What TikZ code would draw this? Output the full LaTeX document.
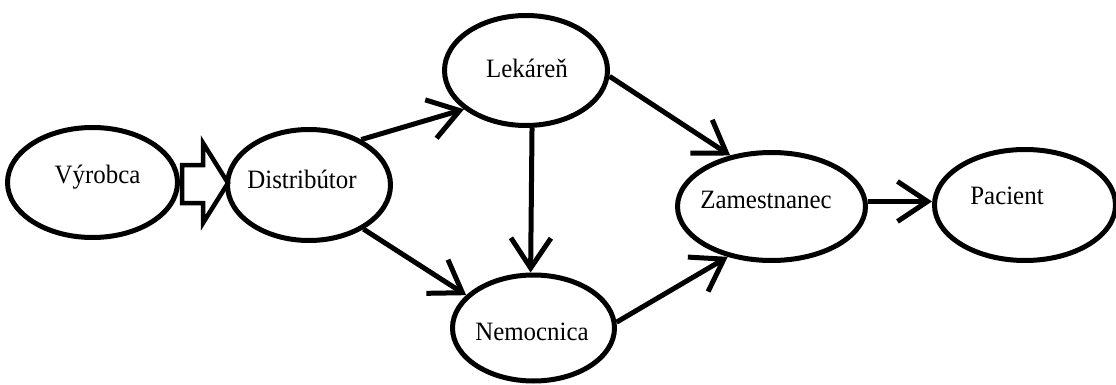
\documentclass[tikz,border=0pt]{standalone}
\usepackage{fontspec}
\setmainfont{Liberation Serif}
\usetikzlibrary{shapes.geometric,arrows.meta,calc}
\newcommand{\narrowtxt}[1]{\scalebox{0.94}[1]{#1}}
\begin{document}
\begin{tikzpicture}[x=1pt,y=-1pt,
  ell/.style={ellipse, draw, line width=5pt, inner sep=0pt},
  lbl/.style={anchor=base, font=\fontsize{26.5}{26.5}\selectfont, inner sep=0pt},
  arr/.style={line width=5pt, -{Straight Barb[length=30pt,width=40pt]}},
  blockarr/.style={draw, fill=white, line width=4.5pt, line join=miter}]
\useasboundingbox (0,0) rectangle (1116,385);
\clip (0,0) rectangle (1116,385);
\node[ell, minimum width=170, minimum height=110] (V) at (92.5,182.5) {};
\node[ell, minimum width=163, minimum height=111] (D) at (309,185) {};
\node[ell, minimum width=163, minimum height=110] (L) at (526,70.5) {};
\node[ell, minimum width=162, minimum height=106] (N) at (533.5,328) {};
\node[ell, minimum width=188, minimum height=108] (Z) at (771.5,206.5) {};
\node[ell, minimum width=181, minimum height=111] (P) at (1025,205) {};
\node[lbl] (tV) at (97.5,183.3) {\narrowtxt{Výrobca}};
\node[lbl] (tD) at (302,188) {\narrowtxt{Distribútor}};
\node[lbl] (tL) at (527,78) {\narrowtxt{Lekáreň}};
\node[lbl] (tN) at (532,340.5) {\narrowtxt{Nemocnica}};
\node[lbl] (tZ) at (766,208) {\narrowtxt{Zamestnanec}};
\node[lbl] (tP) at (1007,204) {\narrowtxt{Pacient}};
\coordinate (VE) at (V.east);
\draw[blockarr] ($(VE)+(2,-17.5)$) -- ($(VE)+(23,-17.5)$) -- ($(VE)+(23,-39.5)$)
  -- ($(VE)+(48,0.5)$) -- ($(VE)+(23,40.5)$) -- ($(VE)+(23,20.5)$)
  -- ($(VE)+(2,20.5)$) -- cycle;
\draw[arr] (D.41.6) -- (L.212.9);
\draw[arr] (D.-39.8) -- (N.154.9);
\draw[arr] (L.-84.2) -- (N.93.5);
\draw[arr] (L.-4.3) -- (Z.129.8);
\draw[arr] (N.4.1) -- (Z.229.8);
\draw[arr] (Z.3.9) -- (Z.3.9 -| P.west);
\end{tikzpicture}
\end{document}
